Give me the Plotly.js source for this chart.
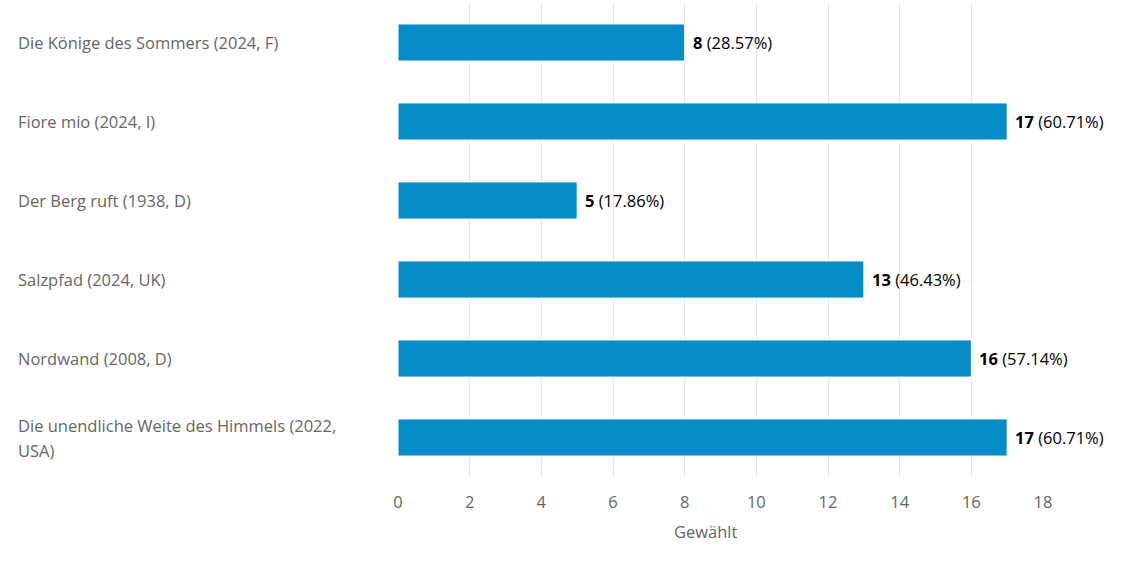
<!DOCTYPE html>
<html>
<head>
<meta charset="utf-8">
<script src="https://cdn.plot.ly/plotly-3.0.1.min.js"></script>
<style>html,body{margin:0;padding:0;background:#fff}#chart{width:1127px;height:562px}</style>
</head>
<body>
<div id="chart"></div>
<script>
var categories = [
  "Die Könige des Sommers (2024, F)",
  "Fiore mio (2024, I)",
  "Der Berg ruft (1938, D)",
  "Salzpfad (2024, UK)",
  "Nordwand (2008, D)",
  "Die unendliche Weite des Himmels (2022,<br>USA)"
];
var votes = [8, 17, 5, 13, 16, 17];
var percents = ["28.57%", "60.71%", "17.86%", "46.43%", "57.14%", "60.71%"];
var tickValues = [0, 2, 4, 6, 8, 10, 12, 14, 16, 18];
var axisTitle = "Gewählt";

var font = "'Open Sans', 'Noto Sans', sans-serif";
var fs = 16.5;

var trace = {
  type: "bar",
  orientation: "h",
  x: votes,
  y: categories,
  marker: {color: "#068dc7", line: {color: "#ffffff", width: 1}},
  hoverinfo: "none"
};

var annotations = [];
// category labels, left aligned
categories.forEach(function(c){
  var lines = c.split("<br>");
  var n = lines.length;
  lines.forEach(function(line, k){
    annotations.push({
      xref: "paper", yref: "y",
      x: (16 - 398) / 645, y: c,
      xanchor: "left", yanchor: "middle",
      yshift: ((n - 1) / 2 - k) * 25,
      align: "left",
      text: line,
      showarrow: false,
      font: {family: font, size: fs, color: "#666666"}
    });
  });
});
// value labels
votes.forEach(function(v, i){
  annotations.push({
    xref: "x", yref: "y",
    x: v, y: categories[i],
    xanchor: "left", yanchor: "middle",
    xshift: 6,
    text: "<b>" + v + "</b> (" + percents[i] + ")",
    showarrow: false,
    font: {family: font, size: fs, color: "#000000"}
  });
});
// axis title
annotations.push({
  xref: "paper", yref: "paper",
  x: (706 - 398) / 645, y: 0,
  xanchor: "center", yanchor: "middle",
  yshift: -54,
  text: axisTitle,
  showarrow: false,
  font: {family: font, size: fs, color: "#666666"}
});

var layout = {
  width: 1127, height: 562,
  margin: {l: 398, r: 84, t: 3, b: 85},
  paper_bgcolor: "#ffffff",
  plot_bgcolor: "#ffffff",
  bargap: 0.53,
  showlegend: false,
  xaxis: {
    range: [0, 18],
    tickvals: tickValues,
    showgrid: true,
    gridcolor: "#e6e6e6",
    gridwidth: 1,
    zeroline: false,
    showline: false,
    ticks: "",
    tickfont: {family: font, size: fs, color: "#666666"},
    ticklabelstandoff: 13
  },
  yaxis: {
    autorange: "reversed",
    showticklabels: false,
    showgrid: false,
    zeroline: false,
    ticks: ""
  },
  annotations: annotations
};

Plotly.newPlot("chart", [trace], layout, {displayModeBar: false, staticPlot: true});
</script>
</body>
</html>
